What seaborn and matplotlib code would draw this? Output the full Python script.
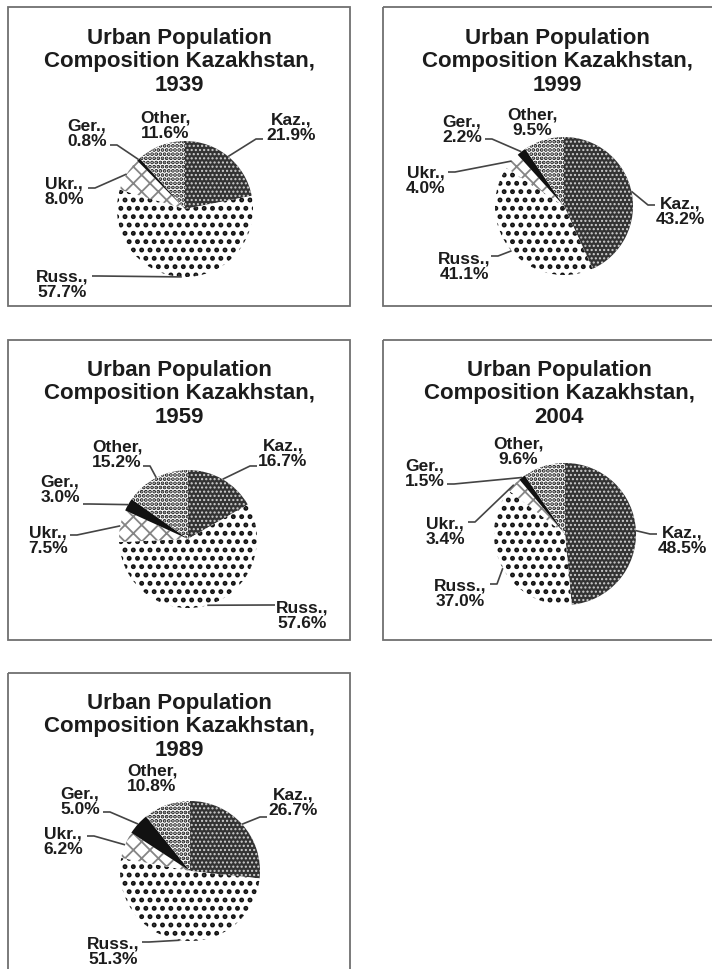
import matplotlib
matplotlib.use("Agg")
import matplotlib.pyplot as plt
from matplotlib.patches import Rectangle
import numpy as np
import seaborn as sns

# data (percent of urban population)
groups = ["Kaz.", "Russ.", "Ukr.", "Ger.", "Other"]
years = [1939, 1999, 1959, 2004, 1989]
share_1939 = [21.9, 57.7, 8.0, 0.8, 11.6]
share_1959 = [16.7, 57.6, 7.5, 3.0, 15.2]
share_1989 = [26.7, 51.3, 6.2, 5.0, 10.8]
share_1999 = [43.2, 41.1, 4.0, 2.2, 9.5]
share_2004 = [48.5, 37.0, 3.4, 1.5, 9.6]
shares = {1939: share_1939, 1959: share_1959, 1989: share_1989,
          1999: share_1999, 2004: share_2004}

# fill style per group: face colour, hatch colour, hatch, hatch linewidth
styles = {
    "Kaz.": ("#333333", "#d0d0d0", "....", 1.0),
    "Russ.": ("white", "#111111", "..", 2.3),
    "Ukr.": ("white", "#858585", "xx", 1.3),
    "Ger.": ("#111111", "#111111", "", 1.0),
    "Other": ("white", "#151515", "....", 1.9),
}

# layout in pixels of the 712x970 canvas (y downwards)
# labels: group -> (text centre, label end of leader line or None)
layout = {
    1939: dict(box=(8, 8, 350, 307), title=(179, 62), center=(185, 210), r=68,
               labels={"Kaz.": ((291, 128), (263, 140)),
                       "Russ.": ((62, 285), (92, 277)),
                       "Ukr.": ((64, 192), (88, 189)),
                       "Ger.": ((87, 134), (110, 146)),
                       "Other": ((165, 126), None)}),
    1999: dict(box=(383, 8, 720, 307), title=(557, 62), center=(564, 207), r=69,
               labels={"Kaz.": ((680, 212), (655, 206)),
                       "Russ.": ((464, 267), (491, 257)),
                       "Ukr.": ((426, 181), (448, 173)),
                       "Ger.": ((462, 130), (485, 140)),
                       "Other": ((532, 123), None)}),
    1959: dict(box=(8, 341, 350, 641), title=(179, 394), center=(188, 540), r=69,
               labels={"Kaz.": ((283, 454), (257, 467)),
                       "Russ.": ((302, 616), (275, 606)),
                       "Ukr.": ((48, 541), (70, 536)),
                       "Ger.": ((60, 490), (83, 505)),
                       "Other": ((117, 455), (143, 467))}),
    2004: dict(box=(383, 341, 720, 641), title=(559, 394), center=(565, 535), r=71,
               labels={"Kaz.": ((682, 541), (657, 535)),
                       "Russ.": ((460, 594), (490, 585)),
                       "Ukr.": ((445, 532), (468, 523)),
                       "Ger.": ((425, 474), (447, 485)),
                       "Other": ((518, 452), None)}),
    1989: dict(box=(8, 674, 350, 990), title=(179, 727), center=(190, 872), r=70,
               labels={"Kaz.": ((293, 803), (267, 818)),
                       "Russ.": ((113, 952), (142, 943)),
                       "Ukr.": ((63, 842), (87, 837)),
                       "Ger.": ((80, 802), (103, 813)),
                       "Other": ((152, 779), None)}),
}

sns.set_theme(style="white")
plt.rcParams["font.family"] = ["Liberation Sans", "DejaVu Sans"]

fig = plt.figure(figsize=(7.12, 9.70), dpi=100)
ax = fig.add_axes([0, 0, 1, 1])

text_color = "#1c1c1c"
line_color = "#444444"

for year in years:
    vals = shares[year]
    lay = layout[year]
    cx, cy = lay["center"]
    r = lay["r"]

    # y axis is flipped, so counterclock in data runs clockwise on screen
    wedges, _ = ax.pie(vals, startangle=270, counterclock=True,
                       center=(cx, cy), radius=r,
                       wedgeprops=dict(linewidth=0))
    for w, g in zip(wedges, groups):
        fc, hc, hatch, hlw = styles[g]
        w.set_facecolor(fc)
        w.set_edgecolor(hc)
        w.set_linewidth(0)
        if hatch:
            w.set_hatch(hatch)
            if hasattr(w, "set_hatch_linewidth"):
                w.set_hatch_linewidth(hlw)

    l, t, rgt, b = lay["box"]
    ax.add_patch(Rectangle((l, t), rgt - l, b - t, fill=False,
                           edgecolor="#707070", linewidth=1.3))

    ax.text(lay["title"][0], lay["title"][1],
            f"Urban Population\nComposition Kazakhstan,\n{year}",
            ha="center", va="center", multialignment="center",
            fontsize=16, fontweight="bold", color=text_color, linespacing=1.15)

    cum = np.cumsum([0] + vals[:-1])
    for g, v, c0 in zip(groups, vals, cum):
        (tx, ty), start = lay["labels"][g]
        ax.text(tx, ty, f"{g},\n{v:.1f}%", ha="center", va="center",
                multialignment="center", fontsize=12.5, fontweight="bold",
                color=text_color, linespacing=1.02)
        if start is None:
            continue
        theta = np.deg2rad(360 * (c0 + v / 2) / 100)
        px = cx + r * np.sin(theta)
        py = cy - r * np.cos(theta)
        sx, sy = start
        knee = sx + 7 * np.sign(px - sx)
        ax.plot([sx, knee, px], [sy, sy, py], color=line_color,
                linewidth=1.2, solid_capstyle="butt")

ax.set_xlim(0, 712)
ax.set_ylim(970, 0)
ax.set_aspect("equal")
ax.axis("off")

fig.savefig("out.png", dpi=100, facecolor="white")
